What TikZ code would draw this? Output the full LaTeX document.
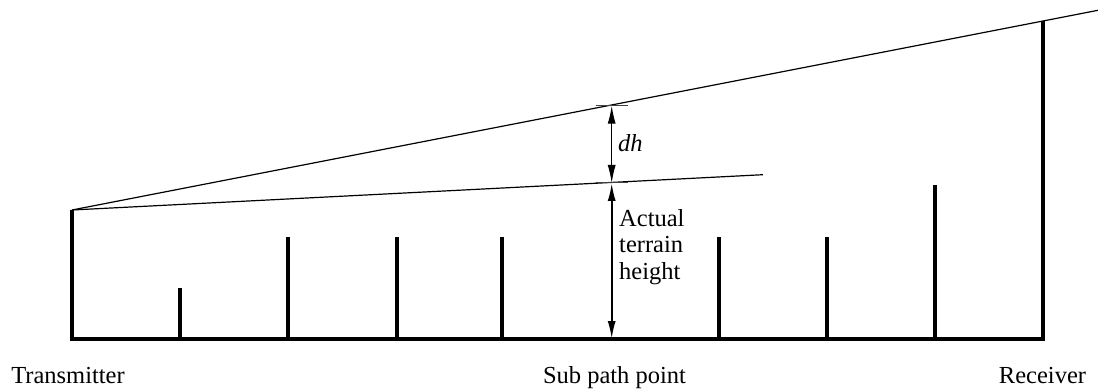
\documentclass[tikz,border=0pt]{standalone}
\usepackage{fontspec}
\setmainfont{Liberation Serif}
\usepackage{tikz}
\usetikzlibrary{arrows.meta}

\begin{document}
\begin{tikzpicture}[x=1pt,y=-1pt,>={Latex[length=18pt,width=8pt]},
  post/.style={line width=3.6pt,line join=miter},
  ray/.style={line width=1.2pt},
  tick/.style={line width=1pt,black!75},
  lbl/.style={font=\fontsize{24.5}{26.5}\selectfont,inner sep=0pt}]
  \useasboundingbox (0,0) rectangle (1098,390);
  \coordinate (tx) at (72,210);
  \coordinate (tb) at (72,339);
  \coordinate (rx) at (1043,21);
  \coordinate (rb) at (1043,339);
  \coordinate (rayend) at (1098,10.3);
  \coordinate (subend) at (763,174.7);
  \coordinate (hi) at (611.7,105.7);
  \coordinate (lo) at (611.7,183);
  \coordinate (sb) at (611.7,339);
  \draw[post] (tx) -- (tb) -- (rb) -- (rx);
  \coordinate (p1) at (180,288); \coordinate (q1) at (180,339);
  \coordinate (p2) at (288,237); \coordinate (q2) at (288,339);
  \coordinate (p3) at (397,237); \coordinate (q3) at (397,339);
  \coordinate (p4) at (502,237); \coordinate (q4) at (502,339);
  \coordinate (p5) at (719,237); \coordinate (q5) at (719,339);
  \coordinate (p6) at (827,237); \coordinate (q6) at (827,339);
  \coordinate (p7) at (935,185); \coordinate (q7) at (935,339);
  \draw[post] (p1) -- (q1);
  \draw[post] (p2) -- (q2);
  \draw[post] (p3) -- (q3);
  \draw[post] (p4) -- (q4);
  \draw[post] (p5) -- (q5);
  \draw[post] (p6) -- (q6);
  \draw[post] (p7) -- (q7);
  \draw[ray] (tx) -- (rayend);
  \draw[ray] (tx) -- (subend);
  \draw[tick] ([xshift=-16pt]hi) -- ([xshift=16pt]hi);
  \draw[tick] ([xshift=-16pt]lo) -- ([xshift=16pt]lo);
  \draw[<->,line width=1.2pt] (hi) -- (lo);
  \draw[<->,line width=2pt] (lo) -- (sb);
  \node[lbl,anchor=base west,font=\fontsize{24.5}{26.5}\selectfont\itshape] (dh) at (618,151.5) {dh};
  \node[lbl,anchor=north west,align=left] (terrain) at (619,209.3) {Actual\\terrain\\height};
  \node[lbl,anchor=base] (txlabel) at (68,383) {Transmitter};
  \node[lbl,anchor=base] (sublabel) at (614.5,383) {Sub path point};
  \node[lbl,anchor=base] (rxlabel) at (1042.5,383) {Receiver};
\end{tikzpicture}
\end{document}
